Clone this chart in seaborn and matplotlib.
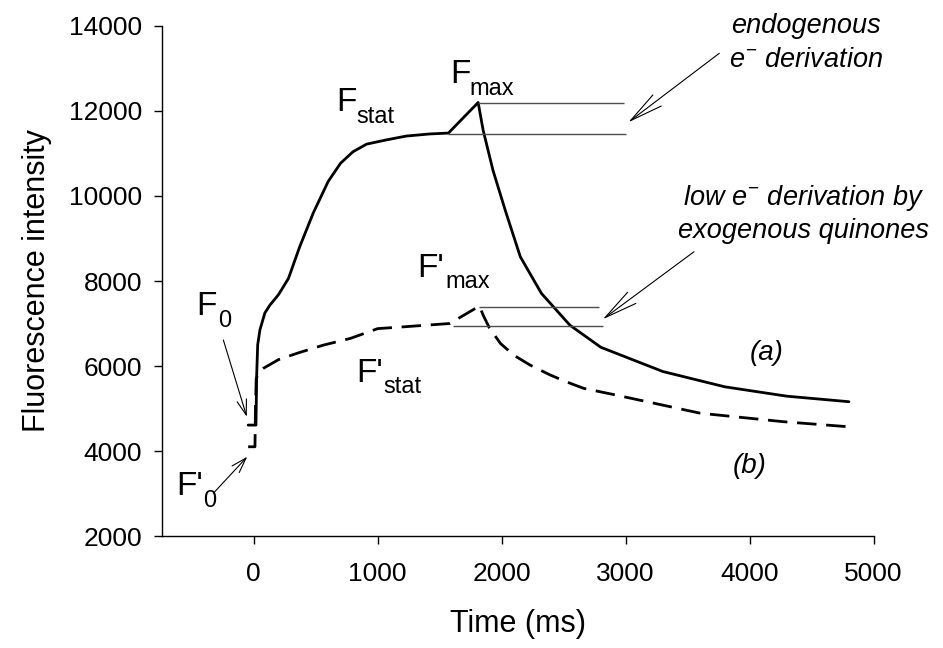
import matplotlib
matplotlib.use("Agg")
import matplotlib.pyplot as plt
import seaborn as sns
import pandas as pd

# curve (a): no quinones
time_a = [-45, 18, 24, 32, 50, 90, 130, 200, 280, 370, 480, 600, 700, 800, 910, 1070, 1230, 1420, 1570,
          1810, 1850, 1930, 2030, 2150, 2320, 2550, 2800, 3300, 3800, 4300, 4800]
fluo_a = [4610, 4610, 5800, 6500, 6850, 7250, 7430, 7680, 8060, 8800, 9600, 10340, 10770, 11040, 11220, 11320, 11410, 11460, 11480,
          12200, 11550, 10600, 9650, 8570, 7710, 6960, 6440, 5870, 5510, 5290, 5160]

# curve (b): exogenous quinones
time_b = [-45, 10, 14, 20, 40, 80, 200, 350, 560, 780, 1000, 1200, 1580,
          1820, 1850, 1900, 1990, 2100, 2230, 2390, 2520, 2660, 2900, 3140, 3600, 4270, 4800]
fluo_b = [4100, 4100, 5000, 5700, 5850, 5950, 6150, 6300, 6490, 6650, 6880, 6920, 7000,
          7410, 7200, 6900, 6530, 6250, 6020, 5790, 5630, 5475, 5330, 5180, 4890, 4690, 4570]

# reference levels (F_stat, F_max, F'_stat, F'_max) and their extents
levels = [11470, 12195, 6950, 7400]
level_start = [1569, 1811, 1605, 1819]
level_end = [3000, 2985, 2814, 2787]

x_ticks = [0, 1000, 2000, 3000, 4000, 5000]
y_ticks = [2000, 4000, 6000, 8000, 10000, 12000, 14000]

sns.set_style("ticks")
plt.rcParams["font.family"] = ["Liberation Sans", "DejaVu Sans"]
plt.rcParams["mathtext.fontset"] = "custom"
plt.rcParams["mathtext.rm"] = "Liberation Sans"
plt.rcParams["mathtext.it"] = "Liberation Sans:italic"
plt.rcParams["text.color"] = "black"
plt.rcParams["axes.labelcolor"] = "black"
plt.rcParams["xtick.color"] = "black"
plt.rcParams["ytick.color"] = "black"

df_a = pd.DataFrame({"t": time_a, "f": fluo_a})
df_b = pd.DataFrame({"t": time_b, "f": fluo_b})

fig = plt.figure(figsize=(9.43, 6.48), dpi=100)
ax = fig.add_axes([0.1715, 0.1728, 0.755, 0.7871])

sns.lineplot(data=df_a, x="t", y="f", ax=ax, color="black", lw=2, estimator=None, sort=False)
sns.lineplot(data=df_b, x="t", y="f", ax=ax, color="black", lw=2, estimator=None, sort=False,
             linestyle=(0, (7, 3.5)))

ax.hlines(levels, level_start, level_end, colors="0.3", lw=1)

ax.set_xlim(-742, 5000)
ax.set_ylim(2000, 14000)
ax.set_xticks(x_ticks)
ax.set_yticks(y_ticks)
ax.tick_params(labelsize=19, length=6, width=1)
ax.tick_params(axis="x", pad=13)
ax.tick_params(axis="y", pad=8)
for s in ["left", "bottom"]:
    ax.spines[s].set_color("black")
    ax.spines[s].set_linewidth(1)
sns.despine(ax=ax)
ax.set_xlabel("Time (ms)", fontsize=22, labelpad=16)
ax.set_ylabel("Fluorescence intensity", fontsize=22, labelpad=12)


def flabel(x, y, main, sub, sx, sy):
    ax.text(x, y, main, fontsize=24, va="baseline", ha="left")
    ax.text(sx, sy, sub, fontsize=17, va="baseline", ha="left")


flabel(664, 12007, "F", "stat", 831, 11725)
flabel(1583, 12652, "F", "max", 1739, 12376)
flabel(1315, 8101, "F'", "max", 1543, 7828)
flabel(825, 5628, "F'", "stat", 1043, 5358)
flabel(-460, 7200, "F", "0", -285, 6925)
flabel(-627, 2965, "F'", "0", -409, 2689)

ax.text(4003, 6141, "(a)", fontsize=20, style="italic", va="baseline")
ax.text(3866, 3475, "(b)", fontsize=20, style="italic", va="baseline")

ax.text(4454, 13828, "endogenous", fontsize=19.5, style="italic", ha="center", va="baseline")
ax.text(4454, 13043, r"$\it{e}^{-}$ derivation", fontsize=19.5, style="italic", ha="center", va="baseline")
ax.text(4431, 9788, r"low $\it{e}^{-}$ derivation by", fontsize=19.5, style="italic", ha="center", va="baseline")
ax.text(4431, 9012, "exogenous quinones", fontsize=19.5, style="italic", ha="center", va="baseline")

big_head = dict(arrowstyle="->,head_length=2.4,head_width=0.5", lw=0.8, color="black",
                mutation_scale=10, shrinkA=0, shrinkB=0)
small_head = dict(arrowstyle="->,head_length=1.1,head_width=0.35", lw=0.8, color="black",
                  mutation_scale=10, shrinkA=0, shrinkB=0)
ax.annotate("", xy=(3021, 11734), xytext=(3755, 13358), arrowprops=big_head)
ax.annotate("", xy=(2815, 7099), xytext=(3551, 8689), arrowprops=big_head)
ax.annotate("", xy=(-56, 4807), xytext=(-245, 6612), arrowprops=small_head)
ax.annotate("", xy=(-52, 3866), xytext=(-326, 3005), arrowprops=small_head)

fig.savefig("out.png", dpi=100)
